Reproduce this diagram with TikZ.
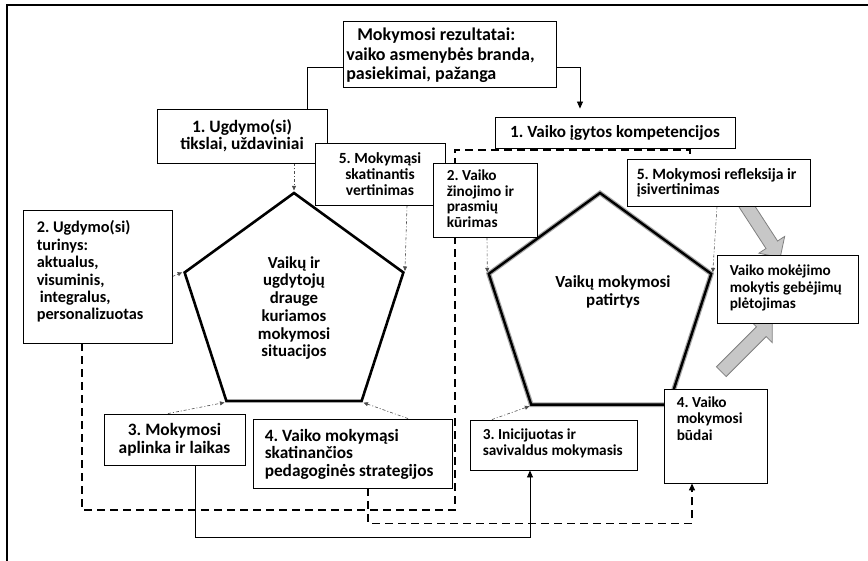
\documentclass[tikz,border=0pt]{standalone}
\usepackage{fontspec}
\setmainfont{Carlito}
\usetikzlibrary{shapes.geometric,shapes.arrows,arrows.meta,backgrounds}

% size and line distance of the text in one box
\newcommand{\boxfont}[2]{\fontsize{#1}{#2}\selectfont\bfseries\frenchspacing}

\tikzset{
  box/.style={draw, fill=white, line width=0.9pt, inner sep=0pt},
  txt/.style={inner sep=0pt, align=left, anchor=north west},
  pent/.style={regular polygon, regular polygon sides=5, draw, inner sep=0pt, align=center},
  growarrow/.style={single arrow, anchor=tail, draw=black!50, fill=black!22,
    line width=0.8pt, inner xsep=0pt, inner ysep=6.5pt,
    single arrow head extend=8.5pt},
  plain/.style={line width=0.8pt},
  dashline/.style={line width=1.5pt, dash pattern=on 8pt off 5pt},
  hint/.style={draw, black!70, line width=0.6pt,
    dash pattern=on 3pt off 2pt on 1pt off 2pt,
    -{Triangle[length=4.5pt,width=4pt]}, shorten >=1pt},
  tip/.style={-{Triangle[length=7pt,width=6pt]}}
}

\begin{document}
\begin{tikzpicture}[x=1pt,y=-1pt]
\useasboundingbox (0,0) rectangle (868,561);
\draw[line width=1.3pt] (7,561) -- (7,5) -- (868,5);

% two pentagons
\node[pent, font={\boxfont{16.8}{17.7}}, minimum size=230pt, line width=2.6pt] (sit) at (294,308)
  {Vaikų ir\\ugdytojų\\drauge\\kuriamos\\mokymosi\\situacijos};
\node[pent, minimum size=234pt, line width=2.4pt,
  preaction={draw=black!35, line width=4.8pt}] (pat) at (600,310) {};
\node[font={\boxfont{16.9}{18.3}}, align=center] (pattxt) at (613,292) {Vaikų mokymosi\\patirtys};

% left side boxes
\node[box, minimum width=213pt, minimum height=66pt,
  label={[txt, name=rest, font={\boxfont{18}{19.7}}, xshift=3.5pt, yshift=-7pt]north west:{\hspace*{11pt}Mokymosi rezultatai:\\vaiko asmenybės branda,\\pasiekimai, pažanga}}]
  (res) at (449.5,54) {};
\node[box, font={\boxfont{17.4}{16.7}}, minimum width=170pt, minimum height=54pt, align=center]
  (ug1) at (242,136) {1. Ugdymo(si)\\tikslai, uždaviniai};
\node[box, font={\boxfont{15.5}{15.8}}, minimum width=130pt, minimum height=62pt, align=center]
  (ug5) at (380,174) {5. Mokymąsi\\skatinantis\\vertinimas};
\node[box, minimum width=149pt, minimum height=133pt,
  label={[txt, name=ug2t, font={\boxfont{16.3}{17.4}}, xshift=14pt, yshift=-11pt]north west:{2. Ugdymo(si)\\turinys:\\aktualus,\\visuminis,\\\hspace*{3pt}integralus,\\personalizuotas}}]
  (ug2) at (97.5,276.5) {};
\node[box, font={\boxfont{17.4}{18.3}}, minimum width=141pt, minimum height=51pt, align=center]
  (ug3) at (174.5,439.5) {3. Mokymosi\\aplinka ir laikas};
\node[box, minimum width=199pt, minimum height=69pt,
  label={[txt, name=ug4t, font={\boxfont{17.3}{17.5}}, xshift=12pt, yshift=-10.5pt]north west:{4. Vaiko mokymąsi\\skatinančios\\pedagoginės strategijos}}]
  (ug4) at (352.5,453.5) {};

% right side boxes
\node[box, font={\boxfont{17.1}{17}}, minimum width=240pt, minimum height=31pt]
  (vk1) at (615,132.5) {1. Vaiko įgytos kompetencijos};
\node[box, minimum width=104pt, minimum height=74pt,
  label={[txt, name=vk2t, font={\boxfont{15.3}{15.6}}, xshift=14pt, yshift=-7.3pt]north west:{2. Vaiko\\žinojimo ir\\prasmių\\kūrimas}}]
  (vk2) at (485,200) {};
\node[box, minimum width=183pt, minimum height=47pt,
  label={[txt, name=vk5t, font={\boxfont{15.7}{15}}, xshift=10pt, yshift=-9.3pt]north west:{5. Mokymosi refleksija ir\\įsivertinimas}}]
  (vk5) at (718.5,182.5) {};
\node[box, minimum width=141pt, minimum height=68pt,
  label={[txt, name=vkmt, font={\boxfont{15.2}{16.3}}, xshift=13pt, yshift=-10.4pt]north west:{Vaiko mokėjimo\\mokytis gebėjimų\\plėtojimas}}]
  (vkm) at (787.5,289) {};
\node[box, minimum width=167pt, minimum height=50pt,
  label={[txt, name=vk3t, font={\boxfont{15.3}{16}}, xshift=13pt, yshift=-9.3pt]north west:{3. Inicijuotas ir\\savivaldus mokymasis}}]
  (vk3) at (553.5,445) {};
\node[box, minimum width=103pt, minimum height=94pt,
  label={[txt, name=vk4t, font={\boxfont{15.3}{16.7}}, xshift=13pt, yshift=-7.6pt]north west:{4. Vaiko\\mokymosi\\būdai}}]
  (vk4) at (715.5,436) {};

\begin{pgfonlayer}{background}
% block arrows
\node[growarrow, minimum height=66pt, rotate=-57] (gr1) at (744,202) {};
\node[growarrow, minimum height=72pt, rotate=45] (gr2) at (721,372) {};

% lines
\draw[plain] ([yshift=-13pt]res.west) -| ([xshift=65pt]ug1.north);
\draw[plain, tip, shorten >=8pt] ([yshift=-13pt]res.east) -| ([xshift=-35pt]vk1.north);
\draw[dashline] ([xshift=-15.5pt]ug2.south) |- (455,510) -- (455,150) -| ([xshift=-28.5pt]vk5.north);
\draw[dashline, tip] ([xshift=15.5pt]ug4.south) -- ++(0,35) -| ([xshift=-23.5pt]vk4.south);
\draw[plain, tip] ([xshift=20.5pt]ug3.south) -- ++(0,72) -| ([xshift=-23.5pt]vk3.south);

\path ([xshift=52pt]ug1.south) edge [hint] (sit.corner 1);
\path ([xshift=27pt]ug5.south) edge [hint] (sit.corner 5);
\path (ug2.east) edge [hint] (sit.corner 2);
\path ([xshift=-6.5pt]ug3.north) edge [hint] (sit.corner 3);
\path ([xshift=55.5pt]ug4.north) edge [hint] (sit.corner 4);

\path ([xshift=2pt]vk2.south) edge [hint] (pat.corner 2);
\path ([xshift=-1.5pt]vk5.south) edge [hint] (pat.corner 5);
\path ([xshift=-61.5pt]vk3.north) edge [hint] (pat.corner 3);
\end{pgfonlayer}

\end{tikzpicture}
\end{document}
